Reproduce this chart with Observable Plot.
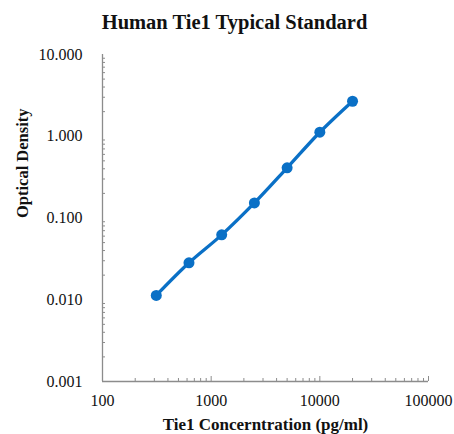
<!DOCTYPE html>
<html>
<head>
<meta charset="utf-8">
<script src="https://cdn.jsdelivr.net/npm/d3@7"></script>
<script src="https://cdn.jsdelivr.net/npm/@observablehq/plot@0.6"></script>
<style>
  html, body { margin: 0; padding: 0; background: #fff; }
</style>
</head>
<body>
<div id="chart"></div>
<script>
const conc = [312.5, 625, 1250, 2500, 5000, 10000, 20000];
const od = [0.0113, 0.0283, 0.0622, 0.153, 0.411, 1.12, 2.68];
const xMajor = [100, 1000, 10000, 100000];
const yMajor = [0.001, 0.01, 0.1, 1, 10];
const titleText = "Human Tie1 Typical Standard";
const xTitle = "Tie1 Concerntration (pg/ml)";
const yTitle = "Optical Density";

const data = conc.map((c, i) => ({c, od: od[i]}));
const minor = (majors) => majors.slice(0, -1).flatMap(m => d3.range(2, 10).map(k => k * m));
const xMinor = minor(xMajor);
const yMinor = minor(yMajor);

const blue = "#0a70c6";
const axisGray = "#8c8c8c";
const font = "'Liberation Serif', 'Times New Roman', serif";

const chart = Plot.plot({
  width: 454,
  height: 434,
  marginLeft: 102,
  marginRight: 26,
  marginTop: 54,
  marginBottom: 53,
  style: {fontFamily: font, fontSize: "16px", color: "#111", background: "#fff"},
  x: {type: "log", domain: [100, 100000], axis: null},
  y: {type: "log", domain: [0.001, 10], axis: null},
  marks: [
    Plot.axisX({ticks: xMinor, tickSize: -3, tickFormat: () => "", label: null, stroke: axisGray}),
    Plot.axisY({ticks: yMinor, tickSize: -3, tickFormat: () => "", label: null, stroke: axisGray}),
    Plot.axisX({ticks: xMajor, tickSize: -5, tickPadding: 18, tickFormat: d => String(d), label: null, stroke: axisGray, fontSize: 16, fill: "#111"}),
    Plot.axisY({ticks: yMajor, tickSize: 0, tickPadding: 20, tickFormat: d3.format(".3f"), label: null, fontSize: 16, fill: "#111"}),
    Plot.ruleY([0.001], {stroke: axisGray, strokeWidth: 1.3}),
    Plot.ruleX([100], {stroke: axisGray, strokeWidth: 1.3}),
    Plot.line(data, {x: "c", y: "od", curve: "catmull-rom", stroke: blue, strokeWidth: 3.3}),
    Plot.dot(data, {x: "c", y: "od", r: 5.5, fill: blue}),
    Plot.text([titleText], {frameAnchor: "top", dx: -31, dy: -40, fontSize: 20.5, fontWeight: "bold", fill: "#111"}),
    Plot.text([xTitle], {frameAnchor: "bottom", dy: 48, fontSize: 17, fontWeight: "bold", fill: "#111"}),
    Plot.text([yTitle], {frameAnchor: "left", dx: -80, rotate: -90, fontSize: 16.5, fontWeight: "bold", fill: "#111"})
  ]
});
document.getElementById("chart").appendChild(chart);
</script>
</body>
</html>
